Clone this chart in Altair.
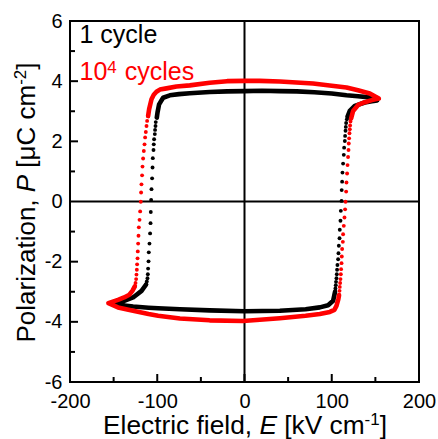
import altair as alt
import pandas as pd

# ---------------- data ----------------
# 1 cycle (black): dense segments (drawn as lines) and sparse switching dots
B_TOP_E = [118.1, 120.7, 126.4, 137.9, 146.0, 152.0, 143.6, 130.0, 116.9, 100.0, 80.0, 60.0, 40.0, 20.0, 0.0,
           -20.0, -40.0, -62.7, -75.0, -85.6, -93.3, -97.9, -99.7, -100.5]
B_TOP_P = [2.82, 3.01, 3.18, 3.29, 3.33, 3.36, 3.46, 3.50, 3.53, 3.59, 3.63, 3.66, 3.67, 3.68, 3.67,
           3.66, 3.64, 3.60, 3.57, 3.53, 3.45, 3.23, 2.96, 2.79]
B_LEFT_E = [-100.5, -101.7, -102.0, -102.5, -102.8, -103.6, -104.0, -104.3, -105.1, -105.4, -105.9, -106.6,
            -107.0, -107.4, -107.7, -108.2, -108.9, -109.7, -110.0, -110.5, -110.8, -111.2, -112.0, -112.8]
B_LEFT_P = [2.79, 2.64, 2.51, 2.38, 2.24, 2.07, 1.90, 1.71, 1.44, 1.13, 0.77, 0.41,
            0.05, -0.35, -0.72, -1.06, -1.40, -1.69, -1.99, -2.23, -2.42, -2.55, -2.66, -2.76]
B_BOT_E = [-112.8, -118.0, -127.7, -143.0, -152.5, -140.0, -127.7, -110.0, -99.0, -74.0, -40.0, 0.0,
           40.5, 70.0, 86.3, 95.8, 101.6, 103.8]
B_BOT_P = [-2.76, -2.97, -3.19, -3.36, -3.39, -3.45, -3.49, -3.53, -3.55, -3.58, -3.62, -3.65,
           -3.63, -3.58, -3.52, -3.45, -3.30, -3.00]
B_RIGHT_E = [103.8, 104.2, 104.6, 104.9, 105.4, 105.8, 106.1, 106.5, 107.3, 107.7, 108.1, 108.9, 109.2,
             110.0, 110.4, 111.2, 111.4, 111.9, 112.3, 113.0, 113.8, 114.2, 115.0, 115.3, 115.8, 116.1,
             116.5, 117.3, 118.1]
B_RIGHT_P = [-3.00, -2.89, -2.78, -2.67, -2.55, -2.42, -2.27, -2.11, -1.92, -1.72, -1.47, -1.22, -0.94,
             -0.64, -0.31, 0.02, 0.38, 0.66, 0.96, 1.26, 1.55, 1.79, 2.01, 2.18, 2.35, 2.48,
             2.61, 2.73, 2.82]

# 10^4 cycles (red)
R_TOP_E = [122.2, 124.5, 130.2, 137.9, 146.0, 154.0, 143.6, 130.0, 116.9, 100.0, 78.6, 40.5, 17.5, 0.0,
           -20.0, -39.8, -62.7, -78.0, -89.4, -97.0, -100.9, -104.0, -106.6, -109.3, -110.5]
R_TOP_P = [2.76, 3.01, 3.21, 3.30, 3.37, 3.42, 3.59, 3.70, 3.79, 3.85, 3.92, 3.99, 4.01, 4.01,
           4.00, 3.95, 3.86, 3.82, 3.76, 3.72, 3.65, 3.55, 3.40, 3.07, 2.84]
R_LEFT_E = [-110.5, -111.6, -112.3, -113.1, -113.9, -114.6, -115.4, -116.2, -116.9, -117.4, -118.1, -118.5,
            -118.9, -119.6, -120.3, -121.1, -121.5, -121.9, -122.3, -122.6, -123.1, -123.4, -123.8,
            -124.2, -124.9, -125.7]
R_LEFT_P = [2.84, 2.68, 2.51, 2.31, 2.13, 1.90, 1.68, 1.43, 1.16, 0.87, 0.57, 0.30,
            -0.01, -0.33, -0.61, -0.86, -1.14, -1.40, -1.66, -1.89, -2.09, -2.27, -2.43,
            -2.58, -2.71, -2.82]
R_BOT_E = [-125.7, -128.5, -132.0, -138.0, -145.0, -156.0, -145.0, -127.7, -110.0, -99.0, -74.0, -40.0,
           -1.6, 40.5, 70.0, 86.3, 97.8, 103.0, 105.4, 107.5, 108.4]
R_BOT_P = [-2.82, -2.97, -3.10, -3.19, -3.27, -3.38, -3.52, -3.63, -3.74, -3.80, -3.89, -3.95,
           -3.97, -3.88, -3.80, -3.74, -3.67, -3.60, -3.47, -3.25, -3.11]
R_RIGHT_E = [108.4, 108.9, 109.2, 109.6, 110.0, 110.4, 110.7, 111.2, 111.5, 111.9, 112.7, 113.0, 113.8,
             114.6, 115.3, 115.8, 116.5, 116.9, 117.6, 118.1, 118.7, 119.2, 119.5, 119.9, 120.3,
             120.7, 121.0, 121.5, 122.2]
R_RIGHT_P = [-3.11, -2.97, -2.84, -2.71, -2.58, -2.42, -2.25, -2.05, -1.83, -1.58, -1.34, -1.09, -0.81,
             -0.53, -0.26, -0.01, 0.33, 0.63, 0.93, 1.21, 1.48, 1.71, 1.93, 2.10, 2.27,
             2.40, 2.53, 2.66, 2.76]

SERIES = ["1 cycle", "10^4 cycles"]
COLORS = ["#000000", "#ff0000"]

X_LABELS = [-200, -100, 0, 100, 200]
Y_LABELS = [-6, -4, -2, 0, 2, 4, 6]
X_MAJOR = [-100, 0, 100]
X_MINOR = [-150, -50, 50, 150]
Y_MAJOR = [-4, -2, 2, 4]
Y_MINOR = [-5, -3, -1, 1, 3, 5]

# ---------------- build table ----------------
rows = []


def add(series, seg, kind, E, P):
    for i, (e, p) in enumerate(zip(E, P)):
        rows.append({"series": series, "seg": series + seg, "kind": kind, "i": i, "E": e, "P": p})


add(SERIES[0], "top", "line", B_TOP_E, B_TOP_P)
add(SERIES[0], "bot", "line", B_BOT_E, B_BOT_P)
add(SERIES[0], "left", "dot", B_LEFT_E, B_LEFT_P)
add(SERIES[0], "right", "dot", B_RIGHT_E, B_RIGHT_P)
add(SERIES[1], "top", "line", R_TOP_E, R_TOP_P)
add(SERIES[1], "bot", "line", R_BOT_E, R_BOT_P)
add(SERIES[1], "left", "dot", R_LEFT_E, R_LEFT_P)
add(SERIES[1], "right", "dot", R_RIGHT_E, R_RIGHT_P)
df = pd.DataFrame(rows)

W, H = 349, 361
FONT = "Liberation Sans"

xs = alt.Scale(domain=[-200, 200], nice=False, zero=False)
ys = alt.Scale(domain=[-6, 6], nice=False, zero=False)
col = alt.Scale(domain=SERIES, range=COLORS)

xaxis = alt.Axis(values=X_LABELS, labelExpr="'' + datum.value", title=None, labelFlush=False,
                 labelPadding=9, labelOverlap=False, labelBound=False)
yaxis = alt.Axis(values=Y_LABELS, labelExpr="'' + datum.value", title=None, labelFlush=False,
                 labelPadding=8, labelOverlap=False, labelBound=False)

X = alt.X("E:Q", scale=xs, axis=xaxis)
Y = alt.Y("P:Q", scale=ys, axis=yaxis)

# crosshair at E=0 and P=0
vline = alt.Chart(pd.DataFrame({"E": [0]})).mark_rule(color="black", strokeWidth=2).encode(x=X)
hline = alt.Chart(pd.DataFrame({"P": [0]})).mark_rule(color="black", strokeWidth=2).encode(y=Y)


# inward ticks
def xticks(vals, L):
    return alt.Chart(pd.DataFrame({"E": vals})).mark_rule(color="black", strokeWidth=2).encode(
        x=X, y=alt.value(H), y2=alt.value(H - L))


def yticks(vals, L):
    return alt.Chart(pd.DataFrame({"P": vals})).mark_rule(color="black", strokeWidth=2).encode(
        y=Y, x=alt.value(0), x2=alt.value(L))


base = alt.Chart(df)


def loop_layer(series, kind):
    c = base.transform_filter(alt.datum.series == series).transform_filter(alt.datum.kind == kind)
    enc = dict(x=X, y=Y, color=alt.Color("series:N", scale=col, legend=None))
    if kind == "line":
        return c.mark_line(strokeWidth=4.6, strokeCap="round", strokeJoin="round").encode(
            detail="seg:N", order="i:Q", **enc)
    return c.mark_circle(size=15, opacity=1).encode(**enc)


def txt(s, x, y, size=26, color="black", style="normal", angle=0):
    return alt.Chart(pd.DataFrame({"a": [0]})).mark_text(
        text=s, font=FONT, fontSize=size, color=color, fontStyle=style, align="left",
        baseline="alphabetic", angle=angle).encode(x=alt.value(x), y=alt.value(y))


# x title: "Electric field, E [kV cm-1]"
em = 26.3
sup = 17
x0 = 33.0
xb = 412.5
xt = [
    txt("Electric field,", x0, xb, size=em),
    txt("E", x0 + 5.946 * em, xb, size=em, style="italic"),
    txt("[kV cm", x0 + (5.946 + 0.667 + 0.278) * em, xb, size=em),
    txt("-1", x0 + (5.946 + 0.667 + 3.334) * em, xb - 9, size=sup),
    txt("]", x0 + (5.946 + 0.667 + 3.334) * em + 0.889 * sup, xb, size=em),
]
# y title: "Polarization, P [μC cm-2]"
y0 = 321.5
yb = -35.5
yt = [
    txt("Polarization,", yb, y0, angle=270),
    txt("P", yb, y0 - 5.78 * 26, style="italic", angle=270),
    txt("[μC cm", yb, y0 - (5.78 + 0.667 + 0.278) * 26, angle=270),
    txt("-2", yb - 9, y0 - (5.78 + 0.667 + 3.465) * 26, size=sup, angle=270),
    txt("]", yb, y0 - (5.78 + 0.667 + 3.465) * 26 - 0.889 * sup, angle=270),
]
# legend texts
lx = 9.5
lg = [
    txt("1 cycle", lx, 22.3, size=25, color=COLORS[0]),
    txt("10", lx, 59, size=25, color=COLORS[1]),
    txt("4", lx + 1.112 * 25, 52, size=17, color=COLORS[1]),
    txt("cycles", lx + 1.112 * 25 + 0.556 * 17 + 0.278 * 25 + 1, 59, size=25, color=COLORS[1]),
]

chart = alt.layer(
    vline, hline,
    xticks(X_MAJOR, 8), xticks(X_MINOR, 5), yticks(Y_MAJOR, 8), yticks(Y_MINOR, 5),
    loop_layer(SERIES[0], "line"), loop_layer(SERIES[0], "dot"),
    loop_layer(SERIES[1], "line"), loop_layer(SERIES[1], "dot"),
    *xt, *yt, *lg,
).properties(
    width=W, height=H,
    padding={"left": 70, "top": 21, "right": 19, "bottom": 57},
    autosize=alt.AutoSizeParams(type="none"),
).configure_view(
    stroke="black", strokeWidth=2
).configure_axis(
    labelFont=FONT, labelFontSize=20, labelColor="black", domain=False, ticks=False, grid=False
)

chart.save("out.html", embed_options={"renderer": "svg", "actions": False})
